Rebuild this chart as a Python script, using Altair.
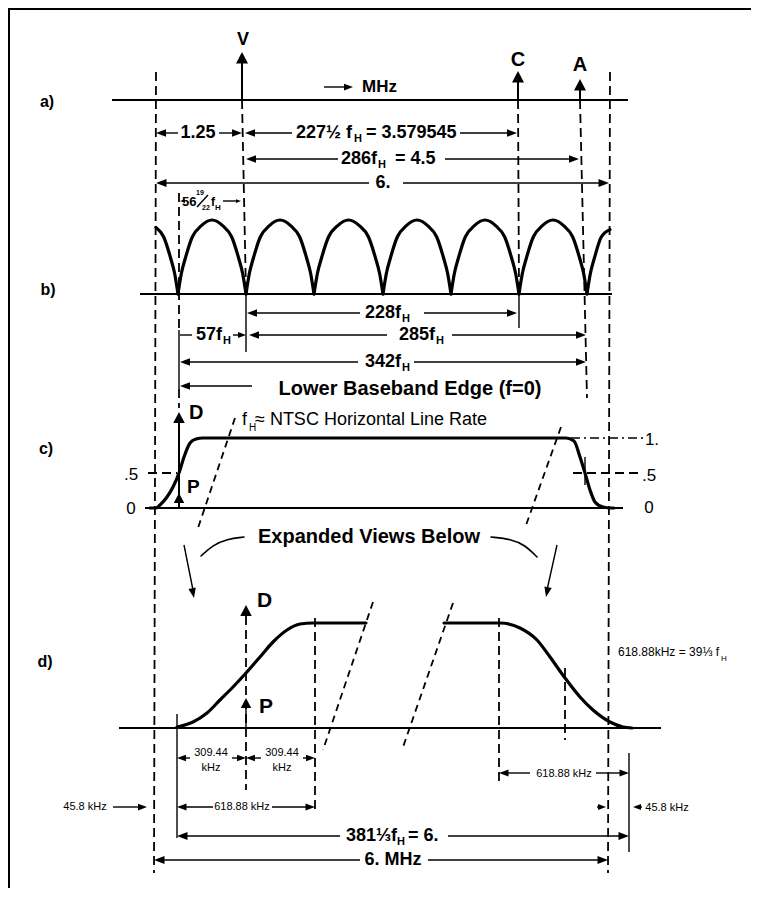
import math
import altair as alt
import pandas as pd

FONT = "Liberation Sans, Arial, Helvetica, sans-serif"

# ------------------------------------------------------------------
# Values (diagram units ~ page pixels)
# ------------------------------------------------------------------
# comb-filter nulls of panel b) and the arch profile between two nulls
B_NULLS = [178, 246, 314, 383, 451, 519, 587]
B_BASE_Y, B_PEAK_Y = 294, 220
ARCH_FRAC = [0, 0.05, 0.11, 0.21, 0.34, 0.5, 0.66, 0.79, 0.89, 0.95, 1]
ARCH_LEVEL = [0, 0.28, 0.49, 0.77, 0.92, 1, 0.92, 0.77, 0.49, 0.28, 0]
LEFT_PART_FRAC = [0.676, 0.79, 0.89, 0.95, 1]
LEFT_PART_LEVEL = [0.90, 0.77, 0.49, 0.28, 0]
RIGHT_PART_FRAC = [0, 0.05, 0.11, 0.21, 0.338]
RIGHT_PART_LEVEL = [0, 0.28, 0.49, 0.77, 0.87]

# panel c) response curve
C_CURVE_X = [150, 156, 160, 167, 173, 179, 184, 190, 196, 203, 566, 574, 580, 585, 590, 595, 603, 611, 614]
C_CURVE_Y = [508, 508, 505, 497, 487, 473, 457, 443, 439, 438, 438, 441, 457, 473, 490, 502, 507, 508, 508]

# panel d) expanded edges
D_LEFT_X = [177, 193, 207, 220, 233, 246, 260, 273, 287, 300, 313, 366]
D_LEFT_Y = [727, 722, 713, 700, 687, 673, 657, 642, 630, 624, 623, 623]
D_RIGHT_X = [444, 500, 520, 537, 550, 565, 580, 593, 610, 623, 632]
D_RIGHT_Y = [623, 623, 628, 640, 657, 678, 697, 710, 722, 727, 728]

# "Expanded Views Below" brackets
BRACKET_L_X = [201, 213, 227, 244]
BRACKET_L_Y = [556, 545, 539, 537]
BRACKET_R_X = [491, 511, 525, 537]
BRACKET_R_Y = [537, 539, 545, 557]

# medium solid lines: frame, baselines, arrow shafts  (x1, y1, x2, y2)
SOLID_MED = [
    (8, 9, 751, 9), (9, 8, 9, 888),
    (112, 100, 628, 100), (140, 294, 612, 294),
    (145, 508, 623, 508), (119, 728, 661, 728),
    (242, 60, 242, 100), (518, 79, 518, 100), (580, 87, 580, 100),
    (179, 420, 179, 508),
]
# thin solid lines: ticks, small shafts, fraction bar
SOLID_THIN = [
    (246, 291, 246, 352), (519, 291, 519, 328), (179, 330, 179, 389),
    (585, 457, 585, 485), (177, 714, 177, 838), (629, 753, 629, 852),
    (246, 706, 246, 728), (324, 87, 346, 87),
    (184, 545, 193, 590), (557, 545, 547, 590),
    (113, 807, 140, 807), (597, 807, 600, 807), (638, 807, 642, 807),
    (197, 207, 208, 195),
]
# dashed guide lines
DASHED = [
    (156, 72, 154, 873), (610, 72, 608, 873),
    (242, 100, 246, 293), (518, 100, 519, 291), (580, 100, 587, 398),
    (179, 193, 179, 330), (179, 389, 179, 408),
    (246, 616, 246, 790), (315, 618, 315, 810), (499, 618, 499, 783),
    (565, 668, 565, 740),
    (148, 473, 177, 473), (573, 473, 639, 473),
]
SLANTS = [(235, 418, 198, 528), (561, 427, 525, 528), (373, 602, 323, 750), (453, 603, 402, 750)]
DASH_DOT = [(571, 438, 644, 438)]

# dimension lines: y, x_from, x_to, gap_from, gap_to, head_left, head_right, head_size
DIMS = [
    (133, 156, 242, 178, 219, 1, 1, 100),
    (133, 245, 517, 292, 460, 1, 1, 100),
    (159, 246, 579, 338, 445, 1, 1, 100),
    (183, 156, 609, 369, 403, 1, 1, 110),
    (201, 180, 241, 184, 223, 1, 1, 25),
    (313, 247, 517, 360, 424, 1, 1, 100),
    (335, 180, 246, 192, 233, 0, 1, 64),
    (335, 249, 586, 387, 452, 1, 1, 100),
    (362, 180, 586, 358, 414, 1, 1, 100),
    (386, 180, 252, 252, 252, 1, 0, 100),
    (758, 177, 246, 190, 232, 1, 1, 80),
    (758, 246, 315, 261, 303, 1, 1, 80),
    (807, 177, 315, 213, 272, 1, 1, 90),
    (773, 499, 629, 530, 596, 1, 1, 90),
    (836, 177, 629, 340, 448, 1, 1, 110),
    (860, 154, 608, 360, 428, 1, 1, 110),
]

# big arrowheads (carriers, D, P): tip x, tip y, angle, size
BIG_HEADS = [
    (242, 52, 270, 130), (518, 71, 270, 130), (580, 79, 270, 130),
    (179, 412, 270, 121), (179, 493, 270, 100),
    (246, 605, 270, 121), (246, 698, 270, 100),
]
# other small arrowheads
SMALL_HEADS = [
    (353, 87, 0, 81),
    (194, 598, 79, 100), (546, 597, 102, 100),
    (147, 807, 0, 81), (606, 807, 0, 64), (633, 807, 180, 64),
]

# texts: (text, x, y, font size)
BOLD_CENTER = [
    ("a)", 47, 102, 16), ("b)", 48, 290, 16), ("c)", 46, 449, 16), ("d)", 45, 662, 16),
    ("V", 243, 40, 18), ("C", 518, 60, 20), ("A", 580, 65, 20),
    ("1.25", 198, 133, 18), ("6.", 383, 183, 18),
    ("Lower Baseband Edge (f=0)", 410, 389, 20),
    ("Expanded Views Below", 369, 537, 20),
    ("6. MHz", 393, 860, 18),
]
BOLD_LEFT = [
    ("MHz", 362, 87, 17),
    ("227½ f", 296, 133, 18), ("H", 354, 139, 11), ("= 3.579545", 366, 133, 18),
    ("286f", 341, 159, 18), ("H", 378, 165, 11), ("= 4.5", 395, 159, 18),
    ("56", 182, 202, 13), ("19", 196, 193, 7), ("22", 202, 208, 7),
    ("f", 211, 202, 12), ("H", 215, 208, 8),
    ("228f", 365, 313, 18), ("H", 402, 319, 11),
    ("57f", 196, 335, 18), ("H", 223, 341, 11),
    ("285f", 399, 335, 18), ("H", 436, 341, 11),
    ("342f", 365, 362, 18), ("H", 402, 368, 11),
    ("D", 189, 413, 20), ("P", 187, 487, 19),
    ("D", 257, 601, 21), ("P", 259, 707, 21),
    ("381⅓f", 346, 836, 18), ("H", 397, 842, 11), ("= 6.", 408, 836, 18),
]
NORMAL_CENTER = [
    (".5", 131, 475, 17), ("0", 131, 509, 17),
    ("1.", 652, 440, 17), (".5", 649, 476, 17), ("0", 649, 508, 17),
    ("309.44", 211, 753, 11), ("kHz", 211, 768, 11),
    ("309.44", 282, 753, 11), ("kHz", 282, 768, 11),
    ("618.88 kHz", 242, 807, 11), ("618.88 kHz", 564, 774, 11),
    ("45.8 kHz", 85, 807, 11), ("45.8 kHz", 667, 808, 11),
]
NORMAL_LEFT = [
    ("f", 242, 420, 18), ("H", 249, 428, 10), ("≈ NTSC Horizontal Line Rate", 255, 420, 18),
    ("618.88kHz = 39⅓ f", 618, 652, 12), ("H", 721, 659, 8),
]

# ------------------------------------------------------------------
XS = alt.Scale(domain=[8, 751], nice=False, zero=False)
YS = alt.Scale(domain=[8, 888], nice=False, zero=False, reverse=True)
X = lambda: alt.X("x:Q", scale=XS, axis=None)
Y = lambda: alt.Y("y:Q", scale=YS, axis=None)

ARROW_DIM = "M0,0L-2,-0.75L-2,0.75Z"
ARROW_BIG = "M0,0L-2,-1.05L-2,1.05Z"


def rules(segs, width, dash=None):
    df = pd.DataFrame(segs, columns=["x", "y", "x2", "y2"])
    kw = dict(color="black", strokeWidth=width, strokeCap="butt")
    if dash:
        kw["strokeDash"] = dash
    return alt.Chart(df).mark_rule(**kw).encode(x=X(), y=Y(), x2="x2:Q", y2="y2:Q")


def curves(df, width, interp="monotone"):
    return alt.Chart(df).mark_line(
        color="black", strokeWidth=width, interpolate=interp,
        strokeJoin="round", strokeCap="round"
    ).encode(x=X(), y=Y(), detail="id:N", order="i:Q")


def heads(rows, path):
    df = pd.DataFrame(rows, columns=["x", "y", "angle", "size"])
    return alt.Chart(df).mark_point(
        shape=path, filled=True, color="black", opacity=1, strokeWidth=0
    ).encode(x=X(), y=Y(), angle=alt.Angle("angle:Q", scale=None),
             size=alt.Size("size:Q", scale=None))


def texts(rows, weight, align):
    df = pd.DataFrame(rows, columns=["text", "x", "y", "size"])
    return alt.Chart(df).mark_text(
        font=FONT, fontWeight=weight, align=align, baseline="middle", color="black"
    ).encode(x=X(), y=Y(), text="text:N", size=alt.Size("size:Q", scale=None))


# ---- curve tables ----
rows = []
span = B_BASE_Y - B_PEAK_Y
for k in range(len(B_NULLS) - 1):
    x0, x1 = B_NULLS[k], B_NULLS[k + 1]
    for i, (f, l) in enumerate(zip(ARCH_FRAC, ARCH_LEVEL)):
        rows.append((f"arch{k}", i, x0 + f * (x1 - x0), B_BASE_Y - l * span))
w = B_NULLS[1] - B_NULLS[0]
for i, (f, l) in enumerate(zip(LEFT_PART_FRAC, LEFT_PART_LEVEL)):
    rows.append(("left", i, B_NULLS[0] - w + f * w, B_BASE_Y - l * span))
w = B_NULLS[-1] - B_NULLS[-2]
for i, (f, l) in enumerate(zip(RIGHT_PART_FRAC, RIGHT_PART_LEVEL)):
    rows.append(("right", i, B_NULLS[-1] + f * w, B_BASE_Y - l * span))
for name, xs, ys in [("c", C_CURVE_X, C_CURVE_Y), ("dl", D_LEFT_X, D_LEFT_Y), ("dr", D_RIGHT_X, D_RIGHT_Y)]:
    for i, (a, b) in enumerate(zip(xs, ys)):
        rows.append((name, i, a, b))
thick_df = pd.DataFrame(rows, columns=["id", "i", "x", "y"])

brows = []
for name, xs, ys in [("bl", BRACKET_L_X, BRACKET_L_Y), ("br", BRACKET_R_X, BRACKET_R_Y)]:
    for i, (a, b) in enumerate(zip(xs, ys)):
        brows.append((name, i, a, b))
bracket_df = pd.DataFrame(brows, columns=["id", "i", "x", "y"])

# ---- dimension lines ----
dim_segs, dim_heads = [], []
for (y, xa, xb, ga, gb, hl, hr, hs) in DIMS:
    if ga > xa:
        dim_segs.append((xa + (3 if hl else 0), y, ga, y))
    if xb > gb:
        dim_segs.append((gb, y, xb - (3 if hr else 0), y))
    if hl:
        dim_heads.append((xa, y, 180, hs))
    if hr:
        dim_heads.append((xb, y, 0, hs))

layers = [
    rules(SOLID_MED, 2),
    rules(SOLID_THIN + dim_segs, 1.4),
    rules(DASHED, 1.8, [9, 5]),
    rules(SLANTS, 1.8, [7, 5]),
    rules(DASH_DOT, 1.6, [9, 4, 2, 4]),
    curves(thick_df, 3.2),
    curves(bracket_df, 1.6, "basis"),
    heads(dim_heads + SMALL_HEADS, ARROW_DIM),
    heads(BIG_HEADS, ARROW_BIG),
    texts(BOLD_CENTER, "bold", "center"),
    texts(BOLD_LEFT, "bold", "left"),
    texts(NORMAL_CENTER, "normal", "center"),
    texts(NORMAL_LEFT, "normal", "left"),
]

chart = alt.layer(*layers).properties(
    width=743, height=880, autosize="none", padding=0
).configure_view(stroke=None)

chart.save("out.html", embed_options={"renderer": "svg", "actions": False})
